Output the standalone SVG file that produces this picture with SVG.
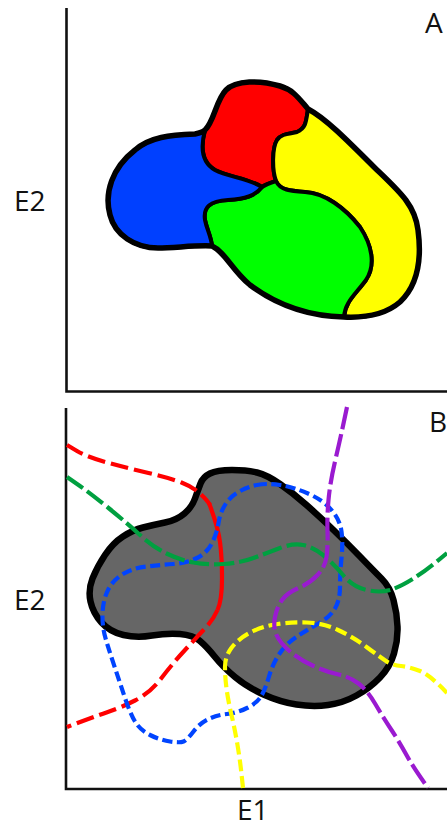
<svg xmlns="http://www.w3.org/2000/svg" width="447" height="829" viewBox="0 0 447 829">
<style>
.axis{fill:none;stroke:#111;stroke-width:2.6}
.lbl{font-family:"Open Sans","Liberation Sans",sans-serif;font-size:28px;fill:#111}
.reg{stroke:#000;stroke-width:4;stroke-linejoin:round}
.outline{fill:none;stroke:#000;stroke-linejoin:round}
.ln{fill:none;stroke-width:4.2;stroke-linecap:butt;stroke-linejoin:round}
</style>
<rect width="447" height="829" fill="#fff"/>

<g id="panelA-axes">
<path class="axis" d="M66.5,8 V391.5 H447"/>
<text class="lbl" x="14" y="211">E2</text>
<text class="lbl" x="425" y="33">A</text>
</g>

<g id="regionRed">
<path class="reg" fill="#ff0000" d="M205,130 C214,122 216,100 226,90 C236,80 260,80 280,86 C294,90 300,100 308,109 C306,122 306,128 297,132 C290,134 282,133 277,140 C272,148 272,170 276,181 C270,183 265,185 262,187 C248,178 228,177 215,170 C201,162 201,145 205,130 Z"/>
</g>
<g id="regionYellow">
<path class="reg" fill="#ffff00" d="M308,109 C325,118 345,138 375,168 C400,192 415,205 418,230 C422,260 418,285 400,302 C385,315 365,318 344,317 C345,302 355,295 366,280 C376,265 372,245 360,227 C345,208 325,193 305,192 C290,191 280,190 276,181 C272,170 272,148 277,140 C282,133 290,134 297,132 C306,128 306,122 308,109 Z"/>
</g>
<g id="regionGreen">
<path class="reg" fill="#00ff00" d="M276,181 C280,190 290,191 305,192 C325,193 345,208 360,227 C372,245 376,265 366,280 C355,295 345,302 344,317 C300,316 270,300 250,285 C232,270 225,252 212,246 C211,236 207,230 205,220 C203,207 210,201 228,200 C245,199 255,196 262,187 C265,185 270,183 276,181 Z"/>
</g>
<g id="regionBlue">
<path class="reg" fill="#0040ff" d="M212,246 C195,245 175,248 158,248 C135,248 115,235 110,215 C104,193 112,168 135,150 C150,137 170,135 195,134 C200,133 203,132 205,130 C201,145 201,162 215,170 C228,177 248,178 262,187 C255,196 245,199 228,200 C210,201 203,207 205,220 C207,230 211,236 212,246 Z"/>
</g>
<g id="outlineA">
<path class="outline" stroke-width="5.5" d="M205,130 C214,122 216,100 226,90 C236,80 260,80 280,86 C294,90 300,100 308,109 C325,118 345,138 375,168 C400,192 415,205 418,230 C422,260 418,285 400,302 C385,315 365,318 344,317 C300,316 270,300 250,285 C232,270 225,252 212,246 C195,245 175,248 158,248 C135,248 115,235 110,215 C104,193 112,168 135,150 C150,137 170,135 195,134 C200,133 203,132 205,130 Z"/>
</g>

<g id="panelB-axes">
<path class="axis" d="M66,408 V789 H447"/>
<text class="lbl" x="14" y="610">E2</text>
<text class="lbl" x="429" y="432">B</text>
<text class="lbl" x="237" y="820" font-size="26">E1</text>
</g>

<g id="blobB">
<path fill="#666666" stroke="#000" stroke-width="6.5" stroke-linejoin="round" d="M200.5,483.5 Q203,477 210,473.5 Q217,470 232,470 Q247,470 257,472.5 Q267,475 280,484 Q293,493 306.5,505 Q320,517 333.5,530 Q347,543 360,556.5 Q373,570 381.5,578.5 Q390,587 393.5,600 Q397,613 397.5,626.5 Q398,640 394,653.5 Q390,667 380,677.5 Q370,688 356.5,695.5 Q343,703 328,705 Q313,707 296.5,704.5 Q280,702 263.5,694.5 Q247,687 235,677 Q223,667 215,657 Q207,647 200,641 Q193,635 180,634 Q167,633 152,635.5 Q137,638 123.5,635 Q110,632 101.5,622.5 Q93,613 90.5,601.5 Q88,590 92.5,578.5 Q97,567 105,555 Q113,543 123,536.5 Q133,530 143,527.5 Q153,525 165,522.5 Q177,520 184.5,513.5 Q192,507 195,498.5 Q198,490 200.5,483.5 Z"/>
</g>

<g id="connectors">
<path class="ln" stroke="#ff0000" stroke-dasharray="18 6" d="M67,445 L77,451 Q87,457 107,462.5 Q127,468 148.5,473 Q170,478 181.5,482.5 Q193,487 200,493.5 Q207,500 210,505"/>
<path class="ln" stroke="#ff0000" d="M209,503 Q218,527 220,542 Q222,557 222,578.5 Q222,600 217.5,610"/>
<path class="ln" stroke="#ff0000" stroke-dasharray="18 6" d="M217.5,610 Q213,620 205,628.5 Q197,637 185,650 Q173,663 161.5,678 Q150,693 135,700.5 Q120,708 106.5,712.5 Q93,717 67,727"/>
<path class="ln" stroke="#0044ff" stroke-dasharray="10 4.5" d="M257,485 Q267,483 280,485 Q293,487 308,493.5 Q323,500 331.5,510 Q340,520 341.5,531.5 Q343,543 341.5,558 Q340,573 340,586.5 Q340,600 335,608.5 Q330,617 318.5,623.5 Q307,630 297,636.5 Q287,643 280,653 Q273,663 269,676.5 Q265,690 261,696.5 Q257,703 247,708 Q237,713 227,714 Q217,715 208.5,719 Q200,723 193.5,731.5 Q187,740 183.5,741.5 Q180,743 170,741.5 Q160,740 150,735 Q140,730 135,721.5 Q130,713 125,698 Q120,683 115,668 Q110,653 106,640 Q102,627 102.5,613.5 Q103,600 108,590 Q113,580 123,574 Q133,568 146.5,566.5 Q160,565 173.5,564 Q187,563 197,558 Q207,553 212,543 Q217,533 218.5,523 Q220,513 225,505 Q230,497 238.5,492 Q247,487 257,485 Z"/>
<path class="ln" stroke="#00a040" stroke-dasharray="20 5" d="M67,477 L78.5,485 Q90,493 108.5,508 Q127,523 140,535 Q153,547 166.5,553.5 Q180,560 193.5,562.5 Q207,565 223.5,564 Q240,563 253.5,558 Q267,553 280,548 Q293,543 303,545 Q313,547 323,555 Q333,563 343,575 Q353,587 366.5,590 Q380,593 390,590 Q400,587 413.5,578.5 Q427,570 447,553"/>
<path class="ln" stroke="#ffff00" stroke-dasharray="12 5" d="M243,788 L241.5,774 Q240,760 237.5,745 Q235,730 231.5,715 Q228,700 226.5,688.5 Q225,677 225,667 Q225,657 231,648.5 Q237,640 248.5,633.5 Q260,627 275,624.5 Q290,622 306.5,622.5 Q323,623 338,630 Q353,637 366.5,647 Q380,657 386,661 Q392,665 401,666 Q410,667 420,671 Q430,675 447,693"/>
<path class="ln" stroke="#9a1ad0" stroke-dasharray="23 5" d="M347,407 L343.5,423.5 Q340,440 335,461.5 Q330,483 328.5,500 Q327,517 327.5,532 Q328,547 326.5,557 Q325,567 317.5,575 Q310,583 298.5,588 Q287,593 282,600 Q277,607 275,617 Q273,627 276.5,635 Q280,643 290,651.5 Q300,660 313.5,666 Q327,672 338.5,674.5 Q350,677 358.5,683.5 Q367,690 375,703.5 Q383,717 391.5,730 Q400,743 406.5,755 Q413,767 428,788"/>
</g>
</svg>
